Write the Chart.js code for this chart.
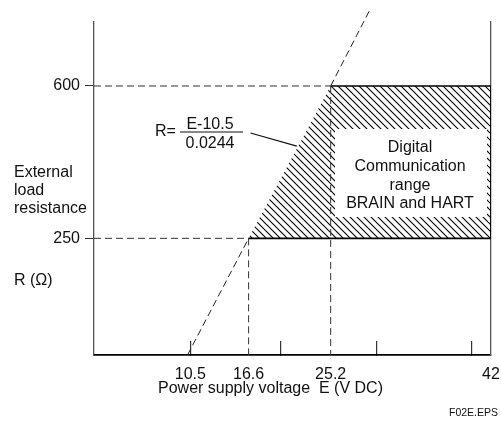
<!DOCTYPE html>
<html>
<head>
<meta charset="utf-8">
<script src="https://cdn.jsdelivr.net/npm/chart.js@4.4.1/dist/chart.umd.min.js"></script>
<style>
  body { margin: 0; background: #fff; }
  canvas { display: block; }
</style>
</head>
<body>
<canvas id="myChart" width="501" height="422"></canvas>
<script>
// axis ticks
var xTicks = [10.5, 16.6, 20, 25.2, 30, 40, 42];
var xLabels = [10.5, 16.6, 25.2, 42];
var yTicks = [250, 600];

// load line R = (E-10.5)/0.0244
var loadE = [10.2, 16.6, null, 25.2, 29.4];
var loadR = [-18, 250, null, 600, 779];

// digital communication range (hatched)
var rangeE = [16.6, 25.2, 42];
var rangeR = [250, 600, 600];
var rangeFloor = 250;
var edgeE = [25.2, 42, 42, 16.6];
var edgeR = [600, 600, 250, 250];

// dashed guide lines
var markE = [16.6, 25.2];
var markR = [250, 600];
var eMin = 0.4, eMax = 42;
var rMin = -18, rMax = 747;

// leader from the formula to the load line
var leaderE = [16.8, 21.65];
var leaderR = [492, 462];

var FONT = '"Liberation Sans", Arial, sans-serif';

function pts(xs, ys) {
  return xs.map((x, i) => ({ x: x, y: ys[i] }))
}

function hatch() {
  let c = document.createElement('canvas')
  let s = 7
  c.width = s; c.height = s
  let g = c.getContext('2d')
  g.strokeStyle = '#000'
  g.lineWidth = 1.1
  g.beginPath()
  g.moveTo(-1, -1); g.lineTo(s + 1, s + 1)
  g.moveTo(-1, s - 1); g.lineTo(1, s + 1)
  g.moveTo(s - 1, -1); g.lineTo(s + 1, 1)
  g.stroke()
  return g.createPattern(c, 'repeat')
}

var dash = [7, 4];
var guides = [
  pts([eMin, markE[0]], [markR[0], markR[0]]),
  pts([eMin, markE[1]], [markR[1], markR[1]]),
  pts([markE[0], markE[0]], [markR[0], rMin]),
  pts([markE[1], markE[1]], [markR[1], rMin])
];

var datasets = [
  {
    data: pts(leaderE, leaderR),
    borderColor: '#111', borderWidth: 1.2
  },
  {
    data: pts(loadE, loadR),
    borderColor: '#222', borderWidth: 1, borderDash: dash, clip: false, spanGaps: false
  },
  {
    data: pts(edgeE, edgeR),
    borderColor: '#000', borderWidth: 1.6
  }
];
guides.forEach(g => datasets.push({ data: g, borderColor: '#333', borderWidth: 1, borderDash: dash }))
datasets.push({
  data: pts(rangeE, rangeR),
  borderWidth: 0,
  borderColor: 'rgba(0,0,0,0)',
  backgroundColor: hatch(),
  fill: { value: rangeFloor }
})
datasets.forEach(d => { d.showLine = true; d.pointRadius = 0; d.tension = 0 })

var labels = {
  id: 'labels',
  afterDatasetsDraw(chart) {
    let ctx = chart.ctx
    ctx.save()
    // text box inside the hatched area
    ctx.fillStyle = '#fff'
    ctx.fillRect(335, 129, 152, 88)

    ctx.fillStyle = '#111'
    ctx.font = '16px ' + FONT
    ctx.textBaseline = 'alphabetic'
    ctx.textAlign = 'center'
    ;['Digital', 'Communication', 'range', 'BRAIN and HART'].forEach((t, i) => {
      ctx.fillText(t, 410, [152, 171, 190, 208][i])
    })

    ctx.textAlign = 'left'
    ctx.fillText('External', 14, 177)
    ctx.fillText('load', 14, 195)
    ctx.fillText('resistance', 14, 213)
    ctx.fillText('R (\u03A9)', 14, 285)
    ctx.fillText('Power supply voltage  E (V DC)', 158, 393)

    // formula
    ctx.fillText('R=', 155, 136)
    ctx.textAlign = 'center'
    ctx.fillText('E-10.5', 210, 129)
    ctx.fillText('0.0244', 210, 148)
    ctx.strokeStyle = '#111'
    ctx.lineWidth = 1.2
    ctx.beginPath()
    ctx.moveTo(180, 132); ctx.lineTo(243, 132)
    ctx.stroke()

    ctx.textAlign = 'right'
    ctx.font = '10.5px ' + FONT
    ctx.fillText('F02E.EPS', 498, 416)
    ctx.restore()
  }
}

new Chart('myChart', {
  type: 'scatter',
  data: { datasets: datasets },
  options: {
    responsive: false,
    animation: false,
    devicePixelRatio: 1,
    layout: { padding: { left: 0, right: 10, top: 22, bottom: 0 } },
    plugins: { legend: { display: false }, tooltip: { enabled: false } },
    scales: {
      x: {
        type: 'linear', min: eMin, max: eMax,
        afterBuildTicks: s => { s.ticks = xTicks.map(v => ({ value: v })) },
        afterFit: s => { s.height = 67; s.paddingLeft = 0; s.paddingRight = 0 },
        ticks: {
          autoSkip: false, maxRotation: 0, padding: 24,
          color: '#111', font: { family: FONT, size: 16 },
          callback: v => xLabels.includes(v) ? String(v) : ''
        },
        grid: {
          drawOnChartArea: false, tickLength: -14, lineWidth: 1.2,
          color: c => (c.tick && [16.6, 25.2, 42].includes(c.tick.value)) ? 'rgba(0,0,0,0)' : '#333'
        },
        border: { color: '#000', width: 1.8 }
      },
      y: {
        min: rMin, max: rMax,
        afterBuildTicks: s => { s.ticks = yTicks.map(v => ({ value: v })) },
        afterFit: s => { s.width = 94; s.paddingTop = 0; s.paddingBottom = 0 },
        ticks: { padding: 5, color: '#111', font: { family: FONT, size: 16 } },
        grid: { drawOnChartArea: false, tickLength: 9, color: '#333', lineWidth: 1 },
        border: { color: '#555', width: 1.3 }
      },
      y2: {
        position: 'right', min: rMin, max: rMax,
        afterFit: s => { s.width = 0; s.paddingTop = 0; s.paddingBottom = 0 },
        ticks: { display: false },
        grid: { display: false },
        border: { color: '#555', width: 1.3 }
      }
    }
  },
  plugins: [labels]
});
</script>
</body>
</html>
